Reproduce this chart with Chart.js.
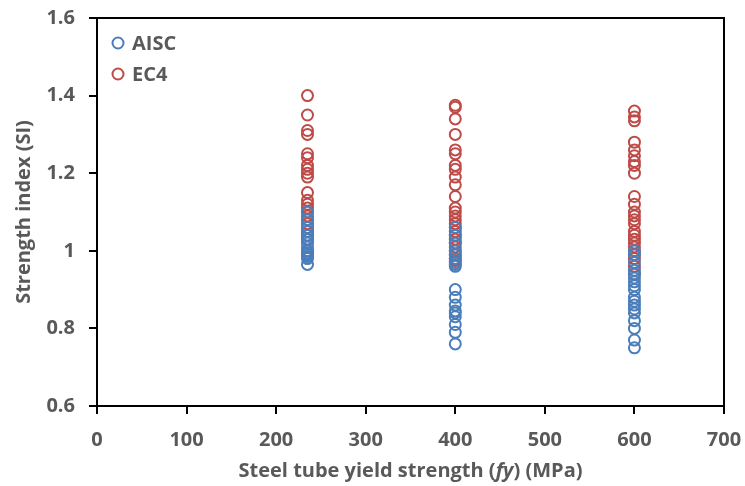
<!DOCTYPE html>
<html>
<head>
<meta charset="utf-8">
<script src="https://cdn.jsdelivr.net/npm/chart.js@4"></script>
<style>
  html, body { margin: 0; padding: 0; background: #fff; }
  #wrap { width: 745px; height: 486px; position: relative; }
</style>
</head>
<body>
<div id="wrap"><canvas id="siChart"></canvas></div>
<script>
// Strength index vs steel yield strength, AISC vs EC4

const yieldGrades = [235, 400, 600];

const aisc235 = [0.965, 0.98, 0.985, 0.99, 0.995, 1.0, 1.0, 1.01, 1.02, 1.03, 1.04, 1.05, 1.06, 1.08, 1.10];
const aisc400 = [0.76, 0.79, 0.81, 0.83, 0.84, 0.845, 0.86, 0.88, 0.90, 0.96, 0.965, 0.97, 0.98, 0.99, 1.0, 1.02, 1.04, 1.06];
const aisc600 = [0.75, 0.77, 0.80, 0.82, 0.84, 0.85, 0.86, 0.87, 0.88, 0.90, 0.91, 0.92, 0.93, 0.94, 0.95, 0.97, 0.99, 1.0];

const ec4_235 = [1.40, 1.35, 1.31, 1.30, 1.25, 1.24, 1.22, 1.21, 1.20, 1.19, 1.15, 1.13, 1.12, 1.11, 1.10, 1.09, 1.08, 1.07, 1.06, 1.05, 1.04, 1.03];
const ec4_400 = [1.375, 1.37, 1.34, 1.30, 1.26, 1.25, 1.22, 1.21, 1.19, 1.17, 1.14, 1.11, 1.10, 1.09, 1.08, 1.07, 1.06, 1.05, 1.04, 1.03, 1.02, 1.01, 1.00, 0.99, 0.98, 0.975];
const ec4_600 = [1.36, 1.345, 1.335, 1.28, 1.26, 1.245, 1.23, 1.22, 1.20, 1.14, 1.12, 1.10, 1.09, 1.08, 1.07, 1.05, 1.04, 1.03, 1.02, 1.01, 1.00, 0.99, 0.98, 0.96, 0.94];

const xTickLabels = ['0', '100', '200', '300', '400', '500', '600', '700'];
const yTickLabels = ['0.6', '0.8', '1', '1.2', '1.4', '1.6'];

const seriesNames = ['AISC', 'EC4'];
const blue = '#4a7ebb';
const red = '#be4b48';
const grey = '#595959';
const fontFam = "'Open Sans', sans-serif";
const fontSize = 20;
const fontWeight = 'bold';

function toPoints(groups) {
    const pts = [];
    groups.forEach((vals, i) => {
        vals.forEach(v => pts.push({ x: yieldGrades[i], y: v }));
    });
    return pts;
}

// legend drawn inside the plot, top-left
const innerLegend = {
    id: 'innerLegend',
    afterDatasetsDraw(chart) {
        const ctx = chart.ctx;
        const area = chart.chartArea;
        ctx.save();
        chart.data.datasets.forEach((ds, i) => {
            const y = area.top + 25 + i * 31;
            const x = area.left + 21;
            ctx.beginPath();
            ctx.arc(x, y, 5.5, 0, Math.PI * 2);
            ctx.lineWidth = 2;
            ctx.strokeStyle = ds.borderColor;
            ctx.stroke();
            ctx.fillStyle = grey;
            ctx.font = fontWeight + ' ' + fontSize + 'px ' + fontFam;
            ctx.textBaseline = 'middle';
            ctx.textAlign = 'left';
            ctx.fillText(ds.label, x + 14, y + 1);
        });
        ctx.restore();
    }
};

// frame round the plot + x title with italic fy
const frameAndTitle = {
    id: 'frameAndTitle',
    afterDraw(chart) {
        const ctx = chart.ctx;
        const area = chart.chartArea;
        ctx.save();
        ctx.strokeStyle = '#000';
        ctx.lineWidth = 2;
        ctx.strokeRect(area.left, area.top, area.right - area.left, area.bottom - area.top);

        const base = fontWeight + ' ' + fontSize + 'px ' + fontFam;
        const parts = [
            [base, 'Steel tube yield strength ('],
            ['italic ' + base, 'fy'],
            [base, ') (MPa)']
        ];
        let total = 0;
        parts.forEach(p => { ctx.font = p[0]; total += ctx.measureText(p[1]).width; });
        let x = (area.left + area.right) / 2 - total / 2;
        ctx.fillStyle = grey;
        ctx.textBaseline = 'middle';
        ctx.textAlign = 'left';
        parts.forEach(p => {
            ctx.font = p[0];
            ctx.fillText(p[1], x, 471);
            x += ctx.measureText(p[1]).width;
        });
        ctx.restore();
    }
};

new Chart(document.getElementById('siChart'), {
    type: 'scatter',
    data: {
        datasets: [{
            label: seriesNames[0],
            data: toPoints([aisc235, aisc400, aisc600]),
            borderColor: blue,
            backgroundColor: 'rgba(0,0,0,0)',
            pointRadius: 5.5,
            borderWidth: 2
        }, {
            label: seriesNames[1],
            data: toPoints([ec4_235, ec4_400, ec4_600]),
            borderColor: red,
            backgroundColor: 'rgba(0,0,0,0)',
            pointRadius: 5.5,
            borderWidth: 2
        }]
    },
    options: {
        responsive: true,
        maintainAspectRatio: false,
        animation: false,
        layout: { padding: { top: 18, right: 21, left: 0, bottom: 0 } },
        plugins: {
            legend: { display: false },
            tooltip: { enabled: false }
        },
        scales: {
            x: {
                min: 0,
                max: 700,
                afterFit: s => {
                    s.height = 80;
                    s.paddingLeft = 0;
                    s.paddingRight = 0;
                },
                ticks: {
                    stepSize: 100,
                    color: grey,
                    font: { family: fontFam, size: fontSize, weight: fontWeight },
                    padding: 14,
                    callback: (v) => xTickLabels[Math.round(v / 100)]
                },
                grid: { drawOnChartArea: false, color: '#000', tickLength: 8, lineWidth: 2 },
                border: { color: '#000', width: 2 }
            },
            y: {
                min: 0.6,
                max: 1.6,
                afterFit: s => {
                    s.width = 97;
                    s.paddingTop = 0;
                    s.paddingBottom = 0;
                },
                ticks: {
                    stepSize: 0.2,
                    color: grey,
                    font: { family: fontFam, size: fontSize, weight: fontWeight },
                    padding: 14,
                    callback: (v) => yTickLabels[Math.round((v - 0.6) / 0.2)]
                },
                title: {
                    display: true,
                    text: 'Strength index (SI)',
                    color: grey,
                    font: { family: fontFam, size: fontSize, weight: fontWeight },
                    padding: { top: 12, bottom: 0 }
                },
                grid: { drawOnChartArea: false, color: '#000', tickLength: 8, lineWidth: 2 },
                border: { color: '#000', width: 2 }
            }
        }
    },
    plugins: [innerLegend, frameAndTitle]
});
</script>
</body>
</html>
